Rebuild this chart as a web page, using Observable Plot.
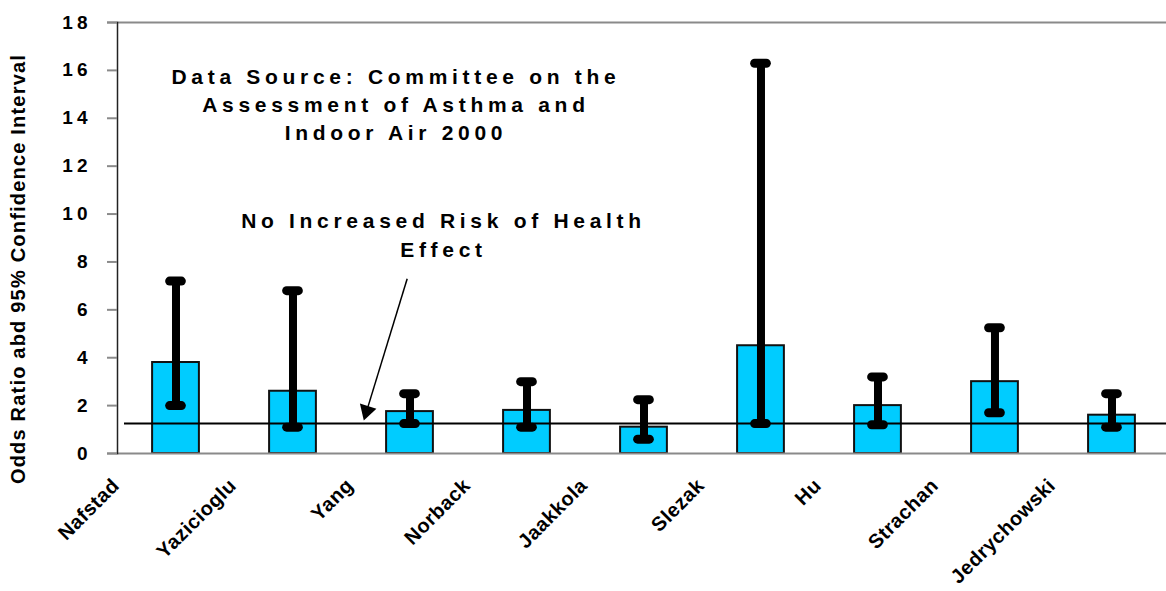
<!DOCTYPE html>
<html><head><meta charset="utf-8">
<script src="https://cdn.jsdelivr.net/npm/d3@7"></script>
<script src="https://cdn.jsdelivr.net/npm/@observablehq/plot@0.6"></script>
<style>
html,body{margin:0;padding:0;background:#fff;}
</style></head><body><div id="chart"></div>
<script>
const studies = ["Nafstad","Yazicioglu","Yang","Norback","Jaakkola","Slezak","Hu","Strachan","Jedrychowski"];
const oddsRatio = [3.8, 2.6, 1.75, 1.8, 1.1, 4.5, 2.0, 3.0, 1.6];
const ciLower = [2.0, 1.1, 1.25, 1.1, 0.6, 1.25, 1.2, 1.7, 1.1];
const ciUpper = [7.2, 6.8, 2.5, 3.0, 2.25, 16.3, 3.2, 5.25, 2.5];
const yTicks = [0, 2, 4, 6, 8, 10, 12, 14, 16, 18];
const noRiskLevel = 1.25;
const yTitle = "Odds Ratio abd 95% Confidence Interval";
const sourceNote = "Data Source: Committee on the\nAssessment of Asthma and\nIndoor Air 2000";
const riskNote = "No Increased Risk of Health\nEffect";

const data = studies.map((s, i) => ({i, study: s, or: oddsRatio[i], lo: ciLower[i], hi: ciUpper[i]}));
const idx = studies.map((_, i) => i);

const font = "'Liberation Sans', Arial, sans-serif";
const chart = Plot.plot({
  width: 1166,
  height: 591,
  marginLeft: 117,
  marginRight: 0,
  marginTop: 22,
  marginBottom: 138,
  style: {fontFamily: font, fontWeight: "bold", background: "#fff", color: "#000", overflow: "visible"},
  x: {type: "linear", domain: [-0.5, 8.466], axis: null},
  y: {domain: [0, 18], axis: null},
  marks: [
    Plot.rect(data, {x1: d => d.i - 0.2, x2: d => d.i + 0.2, y1: 0, y2: "or", fill: "#00CCFF", stroke: "#111", strokeWidth: 2}),
    Plot.ruleY([0, 18], {stroke: "#8a8a8a", strokeWidth: 2, insetLeft: -10}),
    Plot.frame({anchor: "left", stroke: "#222", strokeWidth: 1.5}),
    Plot.ruleY([noRiskLevel], {stroke: "#000", strokeWidth: 2, insetLeft: 7}),
    Plot.ruleX(data, {x: "i", y1: "lo", y2: "hi", stroke: "#000", strokeWidth: 8}),
    Plot.ruleY(data, {y: "hi", x1: d => d.i - 0.05, x2: d => d.i + 0.05, stroke: "#000", strokeWidth: 9, strokeLinecap: "round"}),
    Plot.ruleY(data, {y: "lo", x1: d => d.i - 0.05, x2: d => d.i + 0.05, stroke: "#000", strokeWidth: 9, strokeLinecap: "round"}),
    Plot.axisY({ticks: yTicks, tickSize: 10, tickPadding: 16, fontSize: 19, stroke: "#8a8a8a", strokeWidth: 2, fill: "#000", label: null}),
    Plot.axisX({ticks: idx, tickFormat: i => studies[i], tickSize: 0, tickRotate: -45, fontSize: 20, fill: "#000", dx: -60, dy: 17, label: null}),
    Plot.text([yTitle], {frameAnchor: "left", textAnchor: "middle", rotate: -90, dx: -99, dy: 31, fontSize: 20, fill: "#000"}),
    Plot.text([sourceNote], {x: 1.88, y: 16.29, lineAnchor: "top", lineHeight: 1.35, fontSize: 21, fill: "#000"}),
    Plot.text([riskNote], {x: 2.286, y: 10.29, lineAnchor: "top", lineHeight: 1.4, fontSize: 21, fill: "#000"}),
    Plot.link([0], {x1: 1.976, y1: 7.30, x2: 1.63, y2: 1.78, stroke: "#000", strokeWidth: 1.5}),
    Plot.dot([0], {x: 1.63, y: 1.78, symbol: "triangle", r: 6.4, rotate: 197, fill: "#000", stroke: "none"})
  ]
});
document.getElementById("chart").appendChild(chart);

// letter spacing tweaks
chart.querySelectorAll('g[aria-label="y-axis tick label"] text').forEach(t => t.style.letterSpacing = "4px");
chart.querySelectorAll('g[aria-label="x-axis tick label"] text').forEach(t => t.style.letterSpacing = "0.5px");
chart.querySelectorAll('g[aria-label="text"] text').forEach(t => {
  t.style.letterSpacing = t.textContent.startsWith("Odds") ? "1.2px" : "4.7px";
});
</script>
</body></html>
